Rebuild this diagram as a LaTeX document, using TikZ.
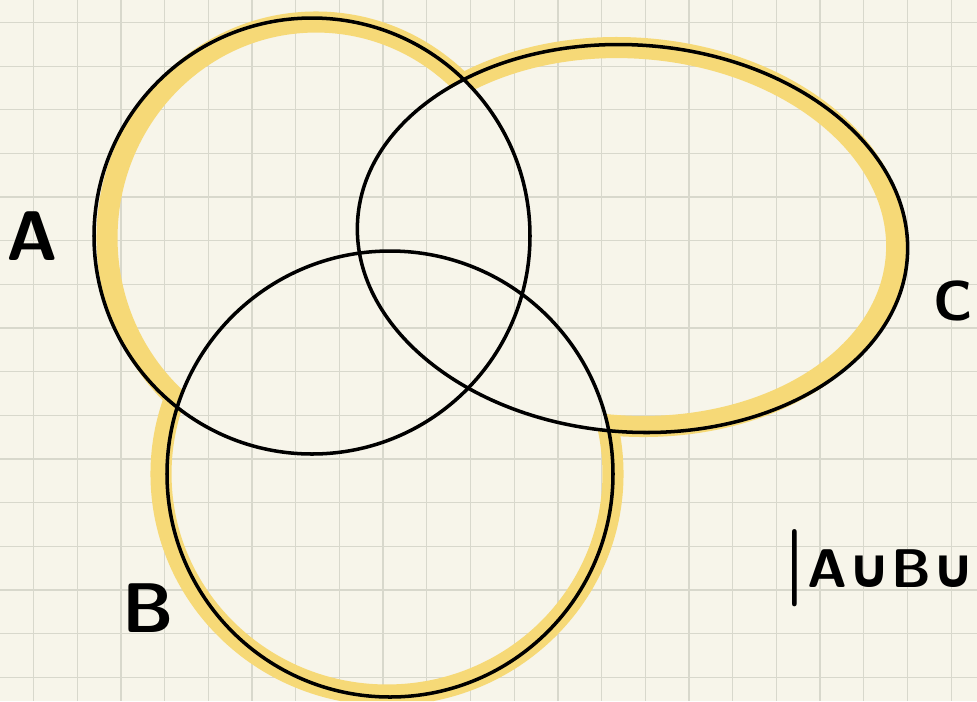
\documentclass[tikz,border=0pt]{standalone}
\usepackage{tikz}
\usepackage{fontspec}
\usetikzlibrary{calc}
\newfontfamily\symfont{DejaVu Sans}
\definecolor{paper}{HTML}{F7F5EA}
\definecolor{gridline}{HTML}{D8D8CC}
\definecolor{marker}{HTML}{F6D977}

\begin{document}
\begin{tikzpicture}[x=0.02cm,y=-0.02cm,
  ring/.style={draw=black,line width=2pt},
  glow/.style={draw=marker,line width=12pt},
  lbl/.style={font=\sffamily\bfseries\fontsize{40}{40}\selectfont}]
\fill[paper] (0,0) rectangle (977,701);
\useasboundingbox (0,0) rectangle (977,701);
% squared paper
\foreach \i in {0,...,21} \draw[gridline,line width=0.7pt] ({33.5+43.7*\i},0) -- ({33.5+43.7*\i},701);
\foreach \j in {0,...,15} \draw[gridline,line width=0.7pt] (0,{22.5+43.65*\j}) -- (977,{22.5+43.65*\j});
\coordinate (A) at (312,236);
\coordinate (B) at (390,474);
\coordinate (C) at (632.5,238.5);
% marker along the outer border of the union
\begin{scope}[even odd rule]
\clip (0,0) rectangle (977,701) (B) circle[radius=223];
\clip (0,0) rectangle (977,701) (C) ellipse[x radius=275.5,y radius=193.5,rotate=-4];
\draw[glow] (316,238) ellipse[x radius=209,y radius=216];
\end{scope}
\begin{scope}[even odd rule]
\clip (0,0) rectangle (977,701) (A) circle[radius=218];
\clip (0,0) rectangle (977,701) (C) ellipse[x radius=275.5,y radius=193.5,rotate=-4];
\draw[glow] (387,474) ellipse[x radius=226,y radius=221];
\end{scope}
\begin{scope}[even odd rule]
\clip (0,0) rectangle (977,701) (A) circle[radius=218];
\clip (0,0) rectangle (977,701) (B) circle[radius=223];
\draw[glow] (630,237) ellipse[x radius=267,y radius=189,rotate=-4];
\end{scope}
% the three sets
\draw[ring] (A) circle[radius=218];
\draw[ring] (B) circle[radius=223];
\draw[ring] (C) ellipse[x radius=275.5,y radius=193.5,rotate=-4];
\node[lbl] (labA) at (32,236) {A};
\node[lbl] (labB) at (148,608) {B};
\node[lbl,font=\sffamily\bfseries\fontsize{32}{32}\selectfont] (labC) at (953,301) {C};
\node[lbl,font=\sffamily\bfseries\fontsize{31}{31}\selectfont,anchor=east,inner sep=0pt] (union) at (976,568)
  {{\fontsize{44}{44}\selectfont|}A{\symfont ∪}B{\symfont ∪}};
\end{tikzpicture}
\end{document}
